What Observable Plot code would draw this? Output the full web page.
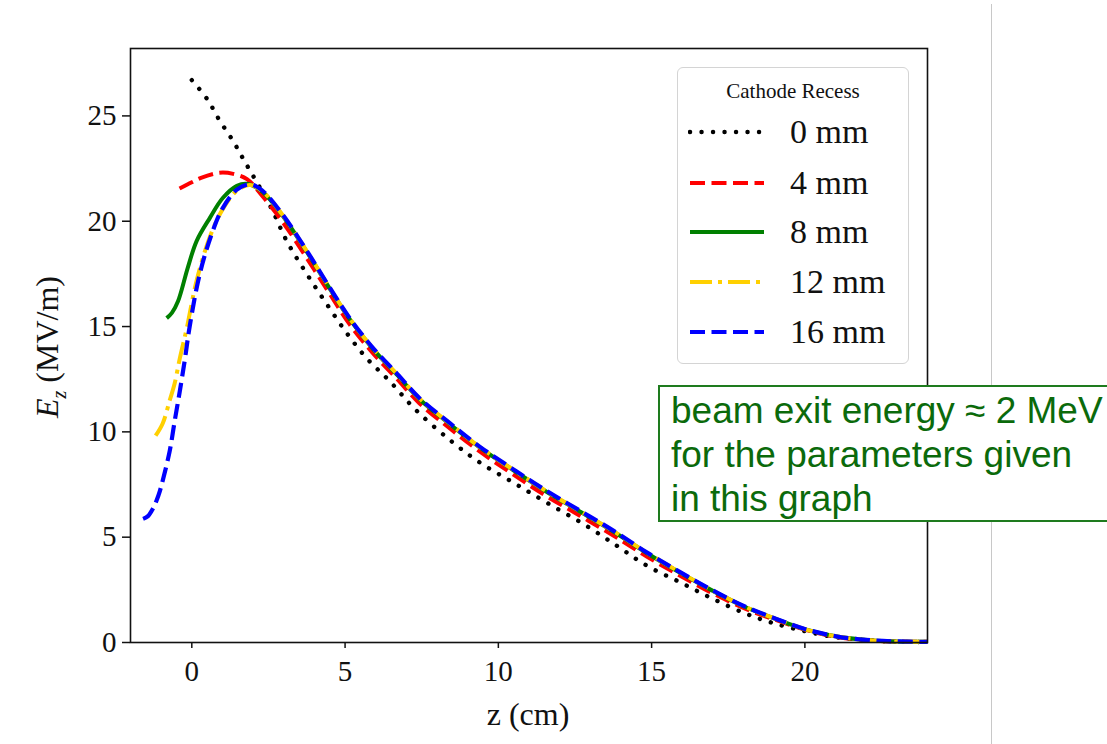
<!DOCTYPE html>
<html>
<head>
<meta charset="utf-8">
<script src="https://cdn.jsdelivr.net/npm/d3@7"></script>
<script src="https://cdn.jsdelivr.net/npm/@observablehq/plot@0.6"></script>
<style>
  html, body { margin: 0; padding: 0; background: #fff; }
  #wrap { position: relative; width: 1107px; height: 744px; overflow: hidden; background: #fff; }
  #chart { position: absolute; left: 0; top: 0; }
  .serif { font-family: "Liberation Serif", "DejaVu Serif", serif; color: #111; }
  #ylabel { position: absolute; left: 50px; top: 347px; transform: translate(-50%, -50%) rotate(-90deg); font-size: 32px; white-space: nowrap; }
  #xlabel { position: absolute; left: 528px; top: 714px; transform: translate(-50%, -50%); font-size: 32px; white-space: nowrap; }
  #legend { position: absolute; left: 677px; top: 67px; width: 232px; height: 297px; border: 1.5px solid #d4d4d4; border-radius: 6px; background: rgba(255,255,255,0.9); box-sizing: border-box; }
  #legend .title { position: absolute; left: 0; width: 100%; top: 11px; text-align: center; font-size: 21px; }
  #legend .row { position: absolute; left: 10px; height: 40px; display: flex; align-items: center; }
  #legend .row span { margin-left: 26px; font-size: 34px; line-height: 1; }
  #gline { position: absolute; left: 991px; top: 4px; width: 1px; height: 740px; background: #c8c8c8; }
  #note { position: absolute; left: 658px; top: 385px; width: 470px; height: 137px; border: 2px solid #1e7b1e; background: #fff; box-sizing: border-box; font-family: "Liberation Sans", Arial, sans-serif; color: #0b6a0b; font-size: 37px; line-height: 44px; padding: 2px 0 0 11px; white-space: nowrap; }
</style>
</head>
<body>
<div id="wrap">
  <div id="chart"></div>
  <div id="gline"></div>
  <div id="ylabel" class="serif"><i>E</i><sub style="font-size:20px"><i>z</i></sub>&nbsp;(MV/m)</div>
  <div id="xlabel" class="serif">z (cm)</div>
  <div id="legend" class="serif"></div>
  <div id="note"></div>
</div>
<script>
// ---- data ----
const seriesNames = ["0 mm", "4 mm", "8 mm", "12 mm", "16 mm"];
const legendTitle = "Cathode Recess";

const z0  = [0.0, 0.5, 0.9, 1.35, 1.7, 2.1, 2.6, 3.1, 3.75, 4.4, 5.05, 5.7, 6.46, 7.3, 8.43, 9.39, 10.48, 11.57, 12.77, 13.86, 14.84, 15.93, 17.0, 18.09, 18.9, 20.05, 21.1, 22.2, 23.0, 24.0];
const e0  = [26.7, 25.8, 24.8, 23.8, 22.9, 21.9, 20.6, 19.05, 17.5, 16.07, 14.7, 13.5, 12.4, 11.05, 9.6, 8.55, 7.6, 6.65, 5.63, 4.6, 3.65, 2.86, 2.07, 1.36, 0.95, 0.52, 0.23, 0.09, 0.04, 0.02];

const z4  = [-0.4, 0.0, 0.3, 0.9, 1.35, 1.8, 2.3, 2.97, 3.75, 4.5, 5.15, 5.9, 6.7, 7.43, 8.43, 9.39, 10.48, 11.57, 12.66, 13.75, 14.84, 15.93, 17.0, 18.09, 19.07, 20.05, 21.1, 22.2, 23.0, 24.0];
const e4  = [21.55, 21.85, 22.06, 22.3, 22.25, 22.0, 21.2, 19.95, 18.25, 16.55, 15.1, 13.75, 12.5, 11.35, 10.15, 9.07, 7.98, 6.95, 6.02, 5.08, 4.08, 3.17, 2.33, 1.58, 1.06, 0.59, 0.25, 0.1, 0.05, 0.03];

const z8  = [-0.82, -0.65, -0.45, -0.13, 0.16, 0.59, 1.01, 1.47, 1.83, 2.3, 2.97, 3.75, 4.5, 5.15, 5.9, 6.7, 7.43, 8.43, 9.39, 10.48, 11.57, 12.66, 13.75, 14.84, 15.93, 17.0, 18.09, 19.07, 20.05, 21.1, 22.2, 23.0, 24.0];
const e8  = [15.4, 15.65, 16.2, 17.8, 19.07, 20.16, 21.1, 21.68, 21.77, 21.4, 20.25, 18.55, 16.8, 15.35, 13.95, 12.7, 11.55, 10.35, 9.26, 8.19, 7.16, 6.22, 5.27, 4.25, 3.31, 2.45, 1.66, 1.11, 0.61, 0.27, 0.1, 0.05, 0.03];

const z12 = [-1.18, -0.95, -0.72, -0.56, -0.39, -0.16, 0.16, 0.6, 1.0, 1.47, 1.9, 2.3, 2.97, 3.75, 4.5, 5.15, 5.9, 6.7, 7.43, 8.43, 9.39, 10.48, 11.57, 12.66, 13.75, 14.84, 15.93, 17.0, 18.09, 19.07, 20.05, 21.1, 22.2, 23.0, 24.0];
const e12 = [9.82, 10.4, 11.5, 12.3, 13.5, 14.95, 17.2, 19.3, 20.55, 21.45, 21.72, 21.42, 20.28, 18.58, 16.83, 15.38, 13.98, 12.73, 11.58, 10.38, 9.28, 8.21, 7.18, 6.24, 5.29, 4.27, 3.33, 2.46, 1.67, 1.11, 0.61, 0.27, 0.1, 0.05, 0.03];

const z16 = [-1.59, -1.43, -1.27, -1.15, -1.04, -0.95, -0.72, -0.56, -0.39, -0.23, -0.07, 0.26, 0.65, 1.0, 1.47, 1.9, 2.3, 2.97, 3.75, 4.5, 5.15, 5.9, 6.7, 7.43, 8.43, 9.39, 10.48, 11.57, 12.66, 13.75, 14.84, 15.93, 17.0, 18.09, 19.07, 20.05, 21.1, 22.2, 23.0, 24.0];
const e16 = [5.87, 6.0, 6.35, 6.74, 7.2, 7.68, 9.1, 10.5, 11.95, 13.4, 15.0, 17.5, 19.4, 20.6, 21.5, 21.75, 21.45, 20.3, 18.6, 16.85, 15.4, 14.0, 12.75, 11.6, 10.4, 9.3, 8.23, 7.2, 6.26, 5.31, 4.28, 3.34, 2.47, 1.68, 1.12, 0.62, 0.27, 0.1, 0.05, 0.03];

const xTicks = [0, 5, 10, 15, 20];
const yTicks = [0, 5, 10, 15, 20, 25];
const noteLines = ["beam exit energy \u2248 2 MeV", "for the parameters given", "in this graph"];

// ---- styles ----
const styles = [
  {stroke: "#000000", dash: "0.1,11.4", cap: "round", width: 4.4},
  {stroke: "#ff0000", dash: "15,6.5", cap: "butt", width: 4},
  {stroke: "#008000", dash: null, cap: "butt", width: 4},
  {stroke: "#ffd000", dash: "22,6,4,6", cap: "butt", width: 4},
  {stroke: "#0000ff", dash: "15,6.5", cap: "butt", width: 4.2}
];
const zs = [z0, z4, z8, z12, z16];
const es = [e0, e4, e8, e12, e16];
const tables = zs.map((zarr, i) => zarr.map((z, j) => ({z, E: es[i][j], s: seriesNames[i]})));

const lineMarks = tables.map((t, i) => Plot.line(t, {
  x: "z", y: "E", curve: "catmull-rom",
  stroke: styles[i].stroke, strokeWidth: styles[i].width,
  strokeDasharray: styles[i].dash || undefined,
  strokeLinecap: styles[i].cap, strokeLinejoin: "round"
}));

const plot = Plot.plot({
  width: 1107, height: 744,
  marginLeft: 130, marginRight: 180, marginTop: 48, marginBottom: 102,
  style: {fontFamily: "Liberation Serif, DejaVu Serif, serif", color: "#111", background: "transparent"},
  x: {domain: [-2, 24], label: null},
  y: {domain: [0, 28.2], label: null},
  marks: [
    ...lineMarks,
    Plot.frame({stroke: "#111", strokeWidth: 1.6}),
    Plot.axisX({ticks: xTicks, tickSize: 6, tickPadding: 12, fontSize: 29, label: null, strokeWidth: 1.5}),
    Plot.axisY({ticks: yTicks, tickSize: 8, tickPadding: 6, fontSize: 29, label: null, strokeWidth: 1.5})
  ]
});
document.getElementById("chart").appendChild(plot);

// ---- legend ----
const legend = document.getElementById("legend");
const t = document.createElement("div");
t.className = "title"; t.textContent = legendTitle; legend.appendChild(t);
const rowY = [131, 182, 231, 281, 331];
seriesNames.forEach((name, i) => {
  const row = document.createElement("div");
  row.className = "row";
  row.style.top = (rowY[i] - 67 - 20) + "px";
  const st = styles[i];
  row.innerHTML = `<svg width="76" height="10"><line x1="2" y1="5" x2="76" y2="5" stroke="${st.stroke}" stroke-width="${st.width}" ${st.dash ? `stroke-dasharray="${st.dash}"` : ""} stroke-linecap="${st.cap}"/></svg><span>${name}</span>`;
  legend.appendChild(row);
});

// ---- annotation ----
document.getElementById("note").innerHTML = noteLines.map(s => `<div>${s}</div>`).join("");
</script>
</body>
</html>
